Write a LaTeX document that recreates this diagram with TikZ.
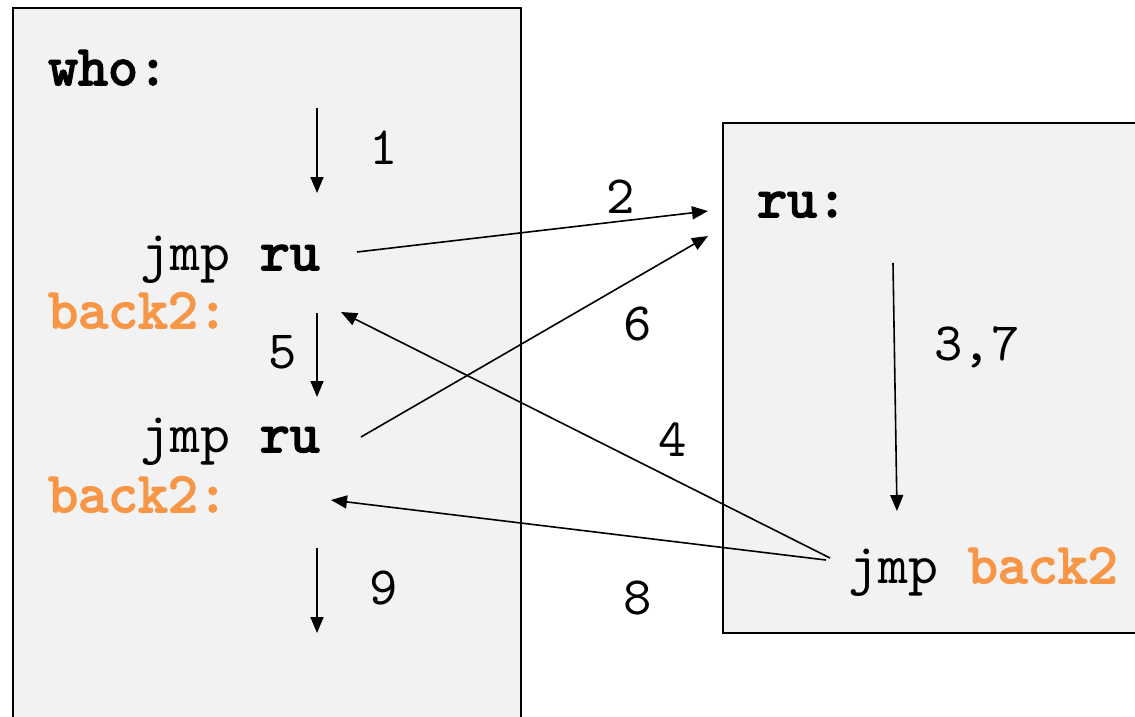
\documentclass[tikz,border=0pt]{standalone}
\usepackage{fontspec}
\setmonofont{lmmono10-regular.otf}[BoldFont=lmmono10-regular.otf, BoldFeatures={FakeBold=3}]
\usetikzlibrary{arrows.meta}
\definecolor{boxgray}{HTML}{F2F2F2}
\definecolor{lblorange}{HTML}{F79646}
\tikzset{
  box/.style={draw=black, line width=2pt, fill=boxgray},
  code/.style={anchor=base west, inner sep=0pt, font=\fontsize{57}{66}\selectfont\ttfamily},
  num/.style={inner sep=0pt, font=\fontsize{54}{62}\selectfont\ttfamily},
  flow/.style={line width=1.6pt, -{Triangle[length=16pt,width=13pt]}}
}
\begin{document}
\begin{tikzpicture}[x=1pt,y=-1pt]
\useasboundingbox (0,0) rectangle (1135,717);
\clip (0,0) rectangle (1135,717);
\draw[box] (13,8) rectangle (521,740);
\draw[box] (723,123) rectangle (1150,633);

\node[code] (who) at (48,85) {\textbf{who:}};
\node[code] (jmpA) at (140,270) {jmp \textbf{ru}};
\node[code, text=lblorange] (backA) at (48,328) {\textbf{back2:}};
\node[code] (jmpB) at (140,452) {jmp \textbf{ru}};
\node[code, text=lblorange] (backB) at (48,512) {\textbf{back2:}};
\node[code] (ru) at (757,217) {\textbf{ru:}};
\node[code] (jmpC) at (848,583) {jmp \textcolor{lblorange}{\textbf{back2}}};

\coordinate (a1s) at (317,108); \coordinate (a1e) at (317,193);
\coordinate (a5s) at (317,313); \coordinate (a5e) at (317,397);
\coordinate (a9s) at (317,548); \coordinate (a9e) at (317,633);
\coordinate (a3s) at (893,263); \coordinate (a3e) at (897,511);
\coordinate (ruIn1) at (708,211);
\coordinate (ruIn2) at (708,236);
\coordinate (jAout) at (357,252);
\coordinate (jBout) at (361,437);
\coordinate (jCout4) at (830,558);
\coordinate (jCout8) at (826,560);
\coordinate (bAin) at (341,312);
\coordinate (bBin) at (331,500);

\draw[flow] (a1s) -- (a1e);
\draw[flow] (a5s) -- (a5e);
\draw[flow] (a9s) -- (a9e);
\draw[flow] (a3s) -- (a3e);
\draw[flow] (jAout) -- (ruIn1);
\draw[flow] (jBout) -- (ruIn2);
\draw[flow] (jCout4) -- (bAin);
\draw[flow] (jCout8) -- (bBin);

\node[num] (n1) at (384,148) {1};
\node[num] (n2) at (621,197) {2};
\node[num] (n37) at (977,347) {3,7};
\node[num] (n4) at (673,440) {4};
\node[num] (n5) at (283,352) {5};
\node[num] (n6) at (638,324) {6};
\node[num] (n8) at (638,598) {8};
\node[num] (n9) at (384,588) {9};
\end{tikzpicture}
\end{document}
